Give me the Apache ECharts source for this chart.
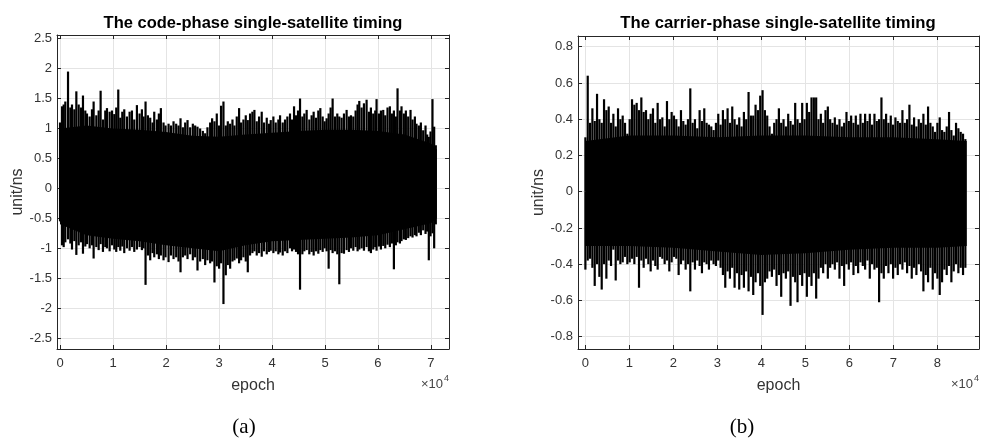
<!DOCTYPE html>
<html><head><meta charset="utf-8">
<style>html,body{margin:0;padding:0;background:#fff}#c{width:982px;height:441px}</style>
<script src="https://cdn.jsdelivr.net/npm/echarts@6.0.0/dist/echarts.min.js"></script>
</head><body><div id="c"></div>
<script>
// ---------- Panel (a): code-phase, envelope spikes ----------
const epochsA = [0,380,690,1000,1510,1950,2260,2700,3080,3520,3960,4330,4770,5090,5590,6030,6340,6850,7290,7660,8100,8540,8860,9360,9800,10240,10610,10990,11370,11750,12120,12620,13130,13570,14010,14510,15010,15450,15770,16140,16580,17020,17460,17780,18280,18650,19030,19530,19910,20480,20920,21420,21920,22360,22740,23180,23620,24060,24560,25060,25500,25940,26440,26950,27390,27820,28330,28700,29140,29580,30020,30400,30840,31280,31660,32100,32540,32910,33350,33790,34170,34610,35050,35430,35860,36300,36680,37120,37560,38060,38500,39010,39440,39760,40260,40700,41200,41520,42020,42460,42900,43400,43780,44160,44530,44910,45290,45730,46100,46540,47040,47480,47860,48300,48740,49120,49560,49930,50310,50690,51060,51440,51880,52320,52700,53140,53580,54080,54520,54900,55340,55780,56150,56470,56910,57350,57850,58290,58660,59100,59480,59730,60170,60550,60990,61370,61800,62240,62620,63000,63370,63690,64130,64440,64880,65260,65700,66140,66520,66960,67270,67710,68090,68530,68970,69280,69590,69910,70280,70600,70910];
const upperA = [1.10,1.37,1.40,1.45,1.95,1.35,1.40,1.32,1.62,1.40,
1.35,1.55,1.30,1.25,1.20,1.32,1.45,1.22,1.30,1.63,
1.15,1.30,1.34,1.28,1.30,1.24,1.35,1.65,1.18,1.28,
1.32,1.20,1.28,1.30,1.15,1.39,1.25,1.32,1.20,1.45,
1.22,1.18,1.10,1.28,1.15,1.25,1.34,1.10,1.05,1.08,
1.05,1.12,1.08,1.05,1.17,1.02,1.10,1.14,1.02,1.08,
1.05,1.03,1.00,0.96,0.92,1.02,1.10,1.17,1.12,1.25,
1.05,1.38,1.45,1.05,1.12,1.08,1.15,1.05,1.20,1.34,
1.10,1.15,1.22,1.14,1.25,1.28,1.31,1.12,1.20,1.28,
1.10,1.18,1.08,1.14,1.20,1.10,1.15,1.22,1.10,1.15,
1.20,1.25,1.15,1.37,1.22,1.30,1.50,1.20,1.25,1.31,
1.15,1.22,1.28,1.18,1.30,1.34,1.20,1.12,1.17,1.25,
1.35,1.50,1.20,1.25,1.20,1.18,1.25,1.31,1.20,1.22,
1.20,1.30,1.40,1.46,1.35,1.42,1.48,1.28,1.35,1.25,
1.30,1.49,1.25,1.30,1.31,1.22,1.35,1.37,1.25,1.30,
1.20,1.67,1.30,1.37,1.25,1.30,1.20,1.31,1.15,1.20,
1.08,1.05,1.10,0.97,1.05,0.90,0.86,0.95,1.49,1.03,
0.72];
const lowerA = [-0.55,-0.95,-0.98,-0.90,-0.85,-0.92,-1.02,-0.88,-1.11,-0.95,
-0.90,-1.09,-0.97,-0.93,-1.00,-0.95,-1.17,-0.98,-1.03,-0.93,
-1.06,-0.98,-1.00,-1.05,-0.95,-1.02,-1.06,-0.98,-1.04,-0.97,
-1.08,-1.00,-1.04,-0.98,-1.06,-1.02,-0.98,-1.03,-1.00,-1.61,
-1.12,-1.20,-1.08,-1.15,-1.10,-1.18,-1.12,-1.20,-1.15,-1.23,
-1.12,-1.18,-1.15,-1.22,-1.40,-1.15,-1.12,-1.18,-1.10,-1.20,
-1.15,-1.37,-1.22,-1.18,-1.28,-1.20,-1.25,-1.22,-1.57,-1.30,
-1.34,-1.25,-1.93,-1.45,-1.28,-1.34,-1.22,-1.20,-1.17,-1.25,
-1.20,-1.15,-1.22,-1.40,-1.12,-1.08,-1.05,-1.12,-1.08,-1.14,
-1.05,-1.10,-1.06,-1.04,-1.08,-1.05,-1.10,-1.07,-1.12,-1.05,
-1.08,-1.00,-1.05,-1.02,-1.06,-1.10,-1.69,-1.10,-1.05,-1.03,
-1.10,-1.06,-1.12,-1.05,-1.09,-1.03,-1.06,-1.00,-1.05,-1.34,
-1.03,-1.08,-1.05,-1.10,-1.60,-1.08,-1.09,-1.03,-1.06,-1.00,
-1.04,-0.98,-1.05,-1.02,-1.00,-1.04,-0.98,-1.05,-1.08,-1.02,
-0.98,-1.04,-0.97,-1.02,-0.96,-1.00,-0.94,-0.98,-0.92,-1.35,
-0.95,-0.90,-0.92,-0.88,-0.85,-0.86,-0.83,-0.80,-0.82,-0.78,
-0.80,-0.74,-0.78,-0.70,-0.76,-0.72,-1.20,-0.80,-0.75,-1.00,
-0.60];
// solid core of the trace (fully black region)
const coreEpochsA = [0,5000,10000,15000,20000,25000,30000,35000,40000,45000,50000,55000,60000,65000,70000,71100];
const coreTopA    = [1.00,1.05,1.00,0.98,0.94,0.88,0.86,0.90,0.93,0.96,0.98,0.98,0.96,0.90,0.75,0.65];
const coreBottomA = [-0.60,-0.78,-0.84,-0.88,-0.95,-1.00,-1.05,-0.95,-0.88,-0.86,-0.84,-0.82,-0.78,-0.68,-0.58,-0.50];

// ---------- Panel (b): carrier-phase ----------
const epochsB = [0,530,1060,1590,2120,2650,3180,3710,4240,4770,5300,5830,6360,6890,7420,7950,8480,9010,9540,10070,10600,11130,11660,12190,12720,13250,13780,14310,14840,15370,15900,16430,16960,17490,18020,18550,19080,19610,20140,20670,21200,21730,22260,22790,23320,23850,24380,24910,25440,25970,26500,27030,27560,28090,28620,29150,29680,30210,30740,31270,31800,32330,32860,33390,33920,34450,34980,35510,36040,36570,37100,37630,38160,38690,39220,39750,40280,40810,41340,41870,42400,42930,43460,43990,44520,45050,45580,46110,46640,47170,47700,48230,48760,49290,49820,50350,50880,51410,51940,52470,53000,53530,54060,54590,55120,55650,56180,56710,57240,57770,58300,58830,59360,59890,60420,60950,61480,62010,62540,63070,63600,64130,64660,65190,65720,66250,66780,67310,67840,68370,68900,69430,69960,70490,71020,71550,72080,72610,73140,73670,74200,74730,75260,75790,76320,76850,77380,77910,78440,78970,79500,80030,80560,81090,81620,82150,82680,83210,83740,84270,84800,85330,85860,86390];
const upperB = [0.30,0.64,0.38,0.46,0.39,0.54,0.40,0.38,0.51,0.45,
0.47,0.38,0.43,0.36,0.46,0.40,0.42,0.38,0.32,0.40,
0.51,0.48,0.49,0.45,0.52,0.44,0.45,0.40,0.43,0.46,
0.38,0.49,0.40,0.41,0.36,0.50,0.40,0.44,0.42,0.40,
0.36,0.45,0.39,0.37,0.40,0.57,0.38,0.40,0.35,0.45,
0.39,0.46,0.38,0.37,0.36,0.34,0.38,0.43,0.37,0.45,
0.40,0.46,0.38,0.47,0.40,0.37,0.41,0.36,0.44,0.40,
0.55,0.42,0.42,0.48,0.45,0.53,0.56,0.45,0.42,0.36,
0.32,0.38,0.40,0.46,0.38,0.40,0.36,0.43,0.39,0.37,
0.49,0.40,0.38,0.49,0.40,0.49,0.44,0.52,0.52,0.52,
0.40,0.43,0.38,0.45,0.47,0.40,0.38,0.41,0.37,0.40,
0.36,0.38,0.44,0.39,0.42,0.38,0.42,0.37,0.43,0.38,
0.43,0.39,0.43,0.37,0.43,0.39,0.40,0.52,0.40,0.43,
0.38,0.42,0.37,0.41,0.39,0.38,0.45,0.38,0.40,0.48,
0.37,0.41,0.36,0.40,0.38,0.43,0.37,0.47,0.38,0.36,
0.33,0.38,0.41,0.34,0.33,0.36,0.44,0.34,0.31,0.38,
0.35,0.33,0.32,0.29];
const lowerB = [-0.43,-0.38,-0.37,-0.42,-0.52,-0.40,-0.47,-0.54,-0.40,-0.48,
-0.38,-0.41,-0.32,-0.49,-0.38,-0.40,-0.39,-0.36,-0.40,-0.39,
-0.37,-0.40,-0.36,-0.53,-0.38,-0.42,-0.37,-0.40,-0.44,-0.38,
-0.41,-0.43,-0.36,-0.37,-0.40,-0.38,-0.44,-0.39,-0.36,-0.37,
-0.46,-0.40,-0.38,-0.43,-0.40,-0.55,-0.39,-0.43,-0.38,-0.41,
-0.45,-0.39,-0.40,-0.43,-0.38,-0.40,-0.41,-0.38,-0.42,-0.46,
-0.53,-0.44,-0.48,-0.42,-0.53,-0.45,-0.54,-0.46,-0.53,-0.44,
-0.55,-0.47,-0.57,-0.50,-0.45,-0.52,-0.68,-0.50,-0.48,-0.44,
-0.47,-0.43,-0.52,-0.46,-0.58,-0.45,-0.48,-0.44,-0.63,-0.47,
-0.50,-0.61,-0.46,-0.52,-0.45,-0.58,-0.47,-0.52,-0.45,-0.59,
-0.48,-0.42,-0.45,-0.40,-0.48,-0.42,-0.40,-0.43,-0.39,-0.48,
-0.41,-0.52,-0.40,-0.43,-0.39,-0.46,-0.41,-0.45,-0.39,-0.41,
-0.43,-0.38,-0.48,-0.40,-0.43,-0.42,-0.61,-0.45,-0.48,-0.41,
-0.45,-0.40,-0.48,-0.42,-0.46,-0.40,-0.43,-0.39,-0.45,-0.41,
-0.48,-0.42,-0.46,-0.40,-0.44,-0.55,-0.46,-0.50,-0.42,-0.54,
-0.45,-0.48,-0.57,-0.50,-0.43,-0.46,-0.41,-0.50,-0.44,-0.40,
-0.45,-0.42,-0.46,-0.42];
const coreEpochsB = [0,10000,20000,30000,40000,50000,60000,70000,80000,86700];
const coreTopB    = [0.28,0.31,0.31,0.30,0.31,0.31,0.30,0.30,0.29,0.28];
const coreBottomB = [-0.30,-0.30,-0.31,-0.33,-0.35,-0.34,-0.32,-0.31,-0.31,-0.30];

// ---------- texts and tick spacing ----------
const titleA = 'The code-phase single-satellite timing';
const titleB = 'The carrier-phase single-satellite timing';
const xLabel = 'epoch';
const yLabel = 'unit/ns';
const xTickStep = 10000;      // labels shown as multiples of 10^4
const yTickStepA = 0.5;
const yTickStepB = 0.2;

const FONT = '"Liberation Sans", Arial, Helvetica, sans-serif';
const AX = '#262626';
const GRID = '#e4e4e4';
const pairs = (xs, ys) => xs.map((x, i) => [x, ys[i]]);
const isMult = (v, s) => Math.abs(v / s - Math.round(v / s)) < 1e-6;

function xAxisDef(gi, min, max, bottom) {
  return {
    type: 'value', gridIndex: gi, position: bottom ? 'bottom' : 'top',
    min, max, splitNumber: 8, minInterval: xTickStep, maxInterval: xTickStep,
    axisLine: { show: true, onZero: false, lineStyle: { color: AX, width: 1 } },
    axisTick: { show: true, inside: true, length: 4, lineStyle: { color: AX, width: 1 } },
    axisLabel: bottom ? { show: true, color: '#333', fontSize: 13, fontFamily: FONT, margin: 8,
      formatter: v => isMult(v, xTickStep) ? String(Math.round(v / xTickStep)) : '' } : { show: false },
    splitLine: { show: bottom, lineStyle: { color: GRID, width: 1 } },
    name: bottom ? xLabel : '', nameLocation: 'middle', nameGap: 29,
    nameTextStyle: { fontSize: 16, color: '#333', fontFamily: FONT }
  };
}
function yAxisDef(gi, min, max, step, left) {
  return {
    type: 'value', gridIndex: gi, position: left ? 'left' : 'right',
    min, max, splitNumber: 10, minInterval: step, maxInterval: step,
    axisLine: { show: true, onZero: false, lineStyle: { color: AX, width: 1 } },
    axisTick: { show: true, inside: true, length: 4, lineStyle: { color: AX, width: 1 } },
    axisLabel: left ? { show: true, color: '#333', fontSize: 13, fontFamily: FONT, margin: 5,
      formatter: v => isMult(v, step) ? String(parseFloat(v.toFixed(2))) : '' } : { show: false },
    splitLine: { show: left, lineStyle: { color: GRID, width: 1 } },
    name: left ? yLabel : '', nameLocation: 'middle', nameGap: 29,
    nameTextStyle: { fontSize: 16, color: '#333', fontFamily: FONT }
  };
}
function traceSeries(xi, yi, ep, up, lo, cep, ct, cb) {
  const bar = (d) => ({ type: 'bar', xAxisIndex: xi, yAxisIndex: yi, data: d, barWidth: 2.2, barGap: '-100%',
    itemStyle: { color: '#000' }, silent: true, animation: false });
  const core = {
    type: 'custom', xAxisIndex: xi, yAxisIndex: yi, silent: true, animation: false,
    data: cep.map((e, i) => [e, ct[i], cb[i]]),
    encode: { x: 0, y: [1, 2] },
    renderItem: (params, api) => {
      if (params.dataIndex !== 0) return null;
      const pts = cep.map((e, i) => api.coord([e, ct[i]]))
        .concat(cep.map((e, i) => api.coord([e, cb[i]])).reverse());
      return { type: 'polygon', shape: { points: pts }, style: { fill: '#000' } };
    }
  };
  return [core, bar(pairs(ep, up)), bar(pairs(ep, lo))];
}

const chart = echarts.init(document.getElementById('c'), null, { renderer: 'canvas' });
chart.setOption({
  animation: false,
  backgroundColor: '#fff',
  grid: [
    { left: 57, top: 35, width: 392, height: 314 },
    { left: 578, top: 36, width: 401, height: 313 }
  ],
  xAxis: [
    xAxisDef(0, -570, 73400, true), xAxisDef(0, -570, 73400, false),
    xAxisDef(1, -1680, 89490, true), xAxisDef(1, -1680, 89490, false)
  ],
  yAxis: [
    yAxisDef(0, -2.68, 2.56, yTickStepA, true), yAxisDef(0, -2.68, 2.56, yTickStepA, false),
    yAxisDef(1, -0.868, 0.859, yTickStepB, true), yAxisDef(1, -0.868, 0.859, yTickStepB, false)
  ],
  series: [
    ...traceSeries(0, 0, epochsA, upperA, lowerA, coreEpochsA, coreTopA, coreBottomA),
    ...traceSeries(2, 2, epochsB, upperB, lowerB, coreEpochsB, coreTopB, coreBottomB)
  ],
  graphic: [
    { type: 'text', x: 253, y: 23, style: { text: titleA, fontSize: 16.5, fontWeight: 'bold', fontFamily: FONT, fill: '#000', align: 'center', verticalAlign: 'middle' } },
    { type: 'text', x: 778, y: 23, style: { text: titleB, fontSize: 16.7, fontWeight: 'bold', fontFamily: FONT, fill: '#000', align: 'center', verticalAlign: 'middle' } },
    { type: 'text', x: 443, y: 384, style: { text: '\u00d710', fontSize: 13, fontFamily: FONT, fill: '#444', align: 'right', verticalAlign: 'middle' } },
    { type: 'text', x: 444, y: 379, style: { text: '4', fontSize: 9, fontFamily: FONT, fill: '#444', align: 'left', verticalAlign: 'middle' } },
    { type: 'text', x: 973, y: 384, style: { text: '\u00d710', fontSize: 13, fontFamily: FONT, fill: '#444', align: 'right', verticalAlign: 'middle' } },
    { type: 'text', x: 974, y: 379, style: { text: '4', fontSize: 9, fontFamily: FONT, fill: '#444', align: 'left', verticalAlign: 'middle' } },
    { type: 'text', x: 244, y: 427, style: { text: '(a)', fontSize: 21, fontFamily: '"Liberation Serif", "Times New Roman", serif', fill: '#000', align: 'center', verticalAlign: 'middle' } },
    { type: 'text', x: 742, y: 427, style: { text: '(b)', fontSize: 21, fontFamily: '"Liberation Serif", "Times New Roman", serif', fill: '#000', align: 'center', verticalAlign: 'middle' } }
  ]
});
</script>
</body></html>
